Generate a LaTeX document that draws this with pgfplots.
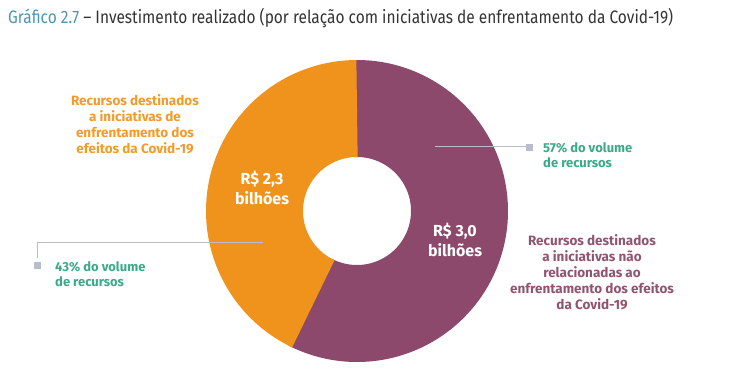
\documentclass[border=0pt]{standalone}
\usepackage{pgfplots}
\usepackage{pgfplotstable}
\usepackage{fontspec}
\setmainfont{Fira Sans}
\pgfplotsset{compat=1.18}
\definecolor{orangeC}{HTML}{F0931C}
\definecolor{purpleC}{HTML}{8C496B}
\definecolor{orangeT}{HTML}{F29A2B}
\definecolor{purpleT}{HTML}{93536F}
\definecolor{greenT}{HTML}{3AAA88}
\definecolor{leadC}{HTML}{B9BCCF}
\definecolor{titleA}{HTML}{4A97AD}
\definecolor{titleB}{HTML}{333333}
\pgfplotstableread{
seg value pct
orange 2.3 43
purple 3.0 57
}\donutdata
\pgfplotstablegetelem{0}{pct}\of\donutdata \let\pctA\pgfplotsretval
\pgfplotstablegetelem{1}{pct}\of\donutdata \let\pctB\pgfplotsretval
\pgfmathsetmacro{\angA}{90+3.6*\pctA}
\pgfmathsetmacro{\angB}{\angA+3.6*\pctB}
\def\cx{357}\def\cy{211}\def\rm{102.5}
\begin{document}
\begin{tikzpicture}
\begin{axis}[scale only axis, width=747pt, height=378pt,
  xmin=0, xmax=747, ymin=0, ymax=378, y dir=reverse,
  hide axis, clip=false]
\addplot[purpleC, line width=97pt, line cap=butt, line join=round, domain=\angA-2:\angB+2, samples=180]
  ({\cx+\rm*cos(x)},{\cy-\rm*sin(x)});
\addplot[orangeC, line width=97pt, line cap=butt, line join=round, domain=90:\angA, samples=120]
  ({\cx+\rm*cos(x)},{\cy-\rm*sin(x)});
% leader lines
\addplot[leadC, line width=1pt] coordinates {(435,146) (526,146)};
\addplot[only marks, mark=square*, mark size=3pt, leadC] coordinates {(529,147)};
\addplot[leadC, line width=1pt] coordinates {(263,242) (37,242) (37,258)};
\addplot[only marks, mark=square*, mark size=3pt, leadC] coordinates {(37,265)};
% texts
\node[anchor=west, inner sep=0pt] at (axis cs:8,18) {\scalebox{0.86}[1]{\fontsize{18}{20}\selectfont\color{titleA}Gráfico 2.7 \color{titleB}– Investimento realizado (por relação com iniciativas de enfrentamento da Covid-19)}};
\node[align=center, font=\fontsize{13.5}{16}\selectfont\bfseries, text=orangeT, inner sep=0pt] at (axis cs:135,124) {Recursos destinados\\a iniciativas de\\enfrentamento dos\\efeitos da Covid-19};
\node[align=center, font=\fontsize{13.5}{16}\selectfont\bfseries, text=purpleT, inner sep=0pt] at (axis cs:592,272) {Recursos destinados\\a iniciativas não\\relacionadas ao\\enfrentamento dos efeitos\\da Covid-19};
\node[align=left, anchor=west, font=\fontsize{13}{15.5}\selectfont\bfseries, text=greenT, inner sep=0pt] at (axis cs:543,155) {57\% do volume\\de recursos};
\node[align=left, anchor=west, font=\fontsize{13}{15.5}\selectfont\bfseries, text=greenT, inner sep=0pt] at (axis cs:55,274) {43\% do volume\\de recursos};
\node[align=center, font=\fontsize{16}{20}\selectfont\bfseries, text=white, inner sep=0pt] at (axis cs:262,188) {R\$ 2,3\\bilhões};
\node[align=center, font=\fontsize{16}{20}\selectfont\bfseries, text=white, inner sep=0pt] at (axis cs:455,240) {R\$ 3,0\\bilhões};
\end{axis}
\pgfresetboundingbox
\path (current axis.south west) rectangle (current axis.north east);
\end{tikzpicture}
\end{document}
